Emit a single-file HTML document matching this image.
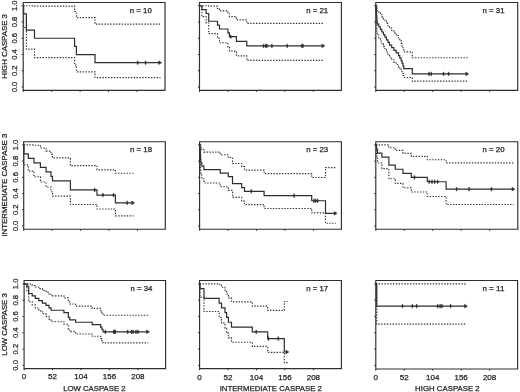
<!DOCTYPE html>
<html><head><meta charset="utf-8"><style>
html,body{margin:0;padding:0;background:#fff;}
body{width:520px;height:392px;overflow:hidden;font-family:"Liberation Sans",sans-serif;}
svg{display:block;will-change:transform;filter:blur(0.3px);}
</style></head><body>
<svg width="520" height="392" viewBox="0 0 520 392">
<rect width="520" height="392" fill="#fff"/>
<g fill="none" stroke="#2e2e2e" stroke-width="1.15">
<path d="M23.2 2.5H165V90.3H23.2ZM199.5 2.5H341.4V90.3H199.5ZM375.8 2.5H517.7V90.3H375.8ZM23.7 141.7H165.3V229.2H23.7ZM199.6 141.7H341.4V229.2H199.6ZM375.8 141.7H517.8V229.2H375.8ZM24.1 280.5H165.6V368.6H24.1ZM199.6 280.5H341.4V368.6H199.6ZM375.8 280.5H517.6V369H375.8Z"/>
<path d="M23.2 87.05h-1.6M23.2 70.79h-1.6M23.2 54.53h-1.6M23.2 38.27h-1.6M23.2 22.01h-1.6M23.2 5.75h-1.6M23.2 90.3v1.6M51.65 90.3v1.6M80.1 90.3v1.6M108.55 90.3v1.6M137 90.3v1.6M199.5 87.05h-1.6M199.5 70.79h-1.6M199.5 54.53h-1.6M199.5 38.27h-1.6M199.5 22.01h-1.6M199.5 5.75h-1.6M199.5 90.3v1.6M227.95 90.3v1.6M256.4 90.3v1.6M284.85 90.3v1.6M313.3 90.3v1.6M375.8 87.05h-1.6M375.8 70.79h-1.6M375.8 54.53h-1.6M375.8 38.27h-1.6M375.8 22.01h-1.6M375.8 5.75h-1.6M375.8 90.3v1.6M404.25 90.3v1.6M432.7 90.3v1.6M461.15 90.3v1.6M489.6 90.3v1.6M23.7 225.96h-1.6M23.7 209.76h-1.6M23.7 193.55h-1.6M23.7 177.35h-1.6M23.7 161.14h-1.6M23.7 144.94h-1.6M23.7 229.2v1.6M52.15 229.2v1.6M80.6 229.2v1.6M109.05 229.2v1.6M137.5 229.2v1.6M199.6 225.96h-1.6M199.6 209.76h-1.6M199.6 193.55h-1.6M199.6 177.35h-1.6M199.6 161.14h-1.6M199.6 144.94h-1.6M199.6 229.2v1.6M228.05 229.2v1.6M256.5 229.2v1.6M284.95 229.2v1.6M313.4 229.2v1.6M375.8 225.96h-1.6M375.8 209.76h-1.6M375.8 193.55h-1.6M375.8 177.35h-1.6M375.8 161.14h-1.6M375.8 144.94h-1.6M375.8 229.2v1.6M404.25 229.2v1.6M432.7 229.2v1.6M461.15 229.2v1.6M489.6 229.2v1.6M24.1 365.4h-1.6M24.1 349.1h-1.6M24.1 332.8h-1.6M24.1 316.5h-1.6M24.1 300.2h-1.6M24.1 283.9h-1.6M24.1 368.6v1.6M52.55 368.6v1.6M81 368.6v1.6M109.45 368.6v1.6M137.9 368.6v1.6M199.6 365.4h-1.6M199.6 349.1h-1.6M199.6 332.8h-1.6M199.6 316.5h-1.6M199.6 300.2h-1.6M199.6 283.9h-1.6M199.6 368.6v1.6M228.05 368.6v1.6M256.5 368.6v1.6M284.95 368.6v1.6M313.4 368.6v1.6M375.8 365.4h-1.6M375.8 349.1h-1.6M375.8 332.8h-1.6M375.8 316.5h-1.6M375.8 300.2h-1.6M375.8 283.9h-1.6M375.8 369v1.6M404.25 369v1.6M432.7 369v1.6M461.15 369v1.6M489.6 369v1.6" stroke-width="1"/>
</g>
<g fill="none" stroke="#333333" stroke-width="1.15" stroke-dasharray="1.4 1.45">
<path d="M23.20 5.75H23.60 V27.54H26.40 V49.12H34.50 V57.64H74.60 V65.18H76.40 V71.83H95.00 V77.59H160.40"/>
<path d="M23.20 5.75H34.50 V6.14H74.60 V11.50H76.40 V17.58H95.00 V24.19H160.40"/>
<path d="M199.50 5.75H201.90 V16.68H206.20 V23.02H208.70 V33.57H217.50 V38.28H219.50 V42.74H227.90 V47.00H229.40 V51.07H236.40 V55.89H246.80 V60.43H323.60"/>
<path d="M199.50 5.75H208.70 V6.06H217.50 V8.38H219.50 V10.94H227.90 V13.71H229.40 V16.66H236.40 V19.88H246.80 V23.36H323.60"/>
<path d="M375.80 5.75H376.00 V13.27H376.20 V17.71H376.40 V21.61H376.60 V25.21H376.80 V28.62H377.00 V31.87H377.20 V35.01H378.80 V38.04H380.33 V40.99H381.86 V43.85H383.39 V46.65H384.91 V49.38H386.44 V52.05H387.97 V54.66H389.50 V57.21H391.70 V59.70H393.90 V62.14H396.20 V64.52H398.50 V66.84H399.80 V69.10H401.20 V71.30H402.10 V73.44H403.00 V75.50H403.80 V77.48H412.30 V81.17H467.50"/>
<path d="M375.80 5.75H376.60 V5.97H376.80 V7.48H377.00 V9.15H377.20 V10.93H378.80 V12.81H380.33 V14.79H381.86 V16.83H383.39 V18.95H384.91 V21.14H386.44 V23.38H387.97 V25.69H389.50 V28.05H391.70 V30.46H393.90 V32.93H396.20 V35.46H398.50 V38.04H399.80 V40.68H401.20 V43.37H402.10 V46.12H403.00 V48.94H403.80 V51.82H412.30 V57.79H467.50"/>
<path d="M23.70 144.94H23.90 V164.80H28.30 V171.05H34.00 V176.73H40.40 V182.02H46.10 V187.00H51.00 V191.71H52.50 V196.18H70.40 V204.48H97.00 V209.00H115.40 V215.80H133.40"/>
<path d="M23.70 144.94H34.00 V145.29H40.40 V148.03H46.10 V151.08H51.00 V154.39H52.50 V157.92H70.40 V165.60H97.00 V169.80H115.40 V173.21H133.40"/>
<path d="M199.60 144.94H200.00 V154.93H200.20 V160.75H200.40 V165.82H200.60 V170.47H200.80 V174.84H201.80 V178.98H203.90 V182.95H220.20 V186.76H228.30 V190.42H232.50 V197.38H241.70 V201.05H244.50 V204.57H264.10 V208.45H311.70 V212.84H325.50 V223.24H335.90"/>
<path d="M199.60 144.94H200.60 V145.23H200.80 V147.31H201.80 V149.62H203.90 V152.10H220.20 V154.74H228.30 V157.52H232.50 V163.45H241.70 V166.67H244.50 V170.05H264.10 V173.66H311.70 V177.47H325.50 V167.59H335.90"/>
<path d="M375.80 144.94H376.50 V156.35H377.50 V162.95H381.90 V168.67H388.90 V178.78H395.30 V183.39H403.00 V187.78H411.30 V191.97H427.30 V196.45H446.10 V204.49H513.70"/>
<path d="M375.80 144.94H388.90 V147.70H395.30 V150.40H403.00 V153.32H411.30 V156.43H427.30 V159.79H446.10 V162.80H513.70"/>
<path d="M24.10 283.90H26.80 V290.79H28.70 V301.79H32.20 V304.94H35.30 V307.95H38.80 V310.86H42.40 V313.68H46.00 V316.42H49.00 V319.09H51.10 V321.70H63.90 V324.26H68.30 V329.21H69.80 V331.62H75.60 V333.97H92.20 V336.28H100.70 V338.55H101.90 V340.77H103.00 V342.94H148.30"/>
<path d="M24.10 283.90H28.70 V284.10H32.20 V285.47H35.30 V286.98H38.80 V288.60H42.40 V290.30H46.00 V292.08H49.00 V293.93H51.10 V295.84H63.90 V297.80H68.30 V301.89H69.80 V304.00H75.60 V306.16H92.20 V308.37H100.70 V310.62H101.90 V312.91H103.00 V315.25H148.30"/>
<path d="M199.60 283.90H200.00 V297.29H204.00 V311.54H219.20 V317.52H221.50 V323.07H225.00 V328.28H226.60 V333.19H228.40 V337.84H231.50 V342.24H252.30 V346.39H267.70 V352.30H284.30 V362.58H287.60"/>
<path d="M199.60 283.90H219.20 V284.27H221.50 V287.21H225.00 V290.48H226.60 V294.04H228.40 V297.85H231.50 V301.90H252.30 V306.17H267.70 V310.38H284.30 V301.48H287.60"/>
<path d="M375.80 283.90H376.70 V324.12H466.30"/>
<path d="M375.80 283.90H466.30"/>
</g>
<g fill="none" stroke="#2e2e2e" stroke-width="1.2">
<path d="M23.20 5.75H23.60 V13.88H26.40 V30.14H34.50 V38.27H74.60 V46.40H76.40 V54.53H95.00 V62.66H160.40"/>
<path d="M199.50 5.75H201.90 V9.62H206.20 V13.49H208.70 V21.24H217.50 V25.11H219.50 V28.98H227.90 V32.85H229.40 V36.72H236.40 V41.30H246.80 V45.87H323.60"/>
<path d="M375.80 5.75H376.00 V8.37H376.20 V11.00H376.40 V13.62H376.60 V16.24H376.80 V18.86H377.00 V21.49H377.20 V24.11H378.80 V26.73H380.33 V29.35H381.86 V31.98H383.39 V34.60H384.91 V37.22H386.44 V39.84H387.97 V42.47H389.50 V45.09H391.70 V47.71H393.90 V50.33H396.20 V52.96H398.50 V55.58H399.80 V58.20H401.20 V60.82H402.10 V63.45H403.00 V66.07H403.80 V68.69H412.30 V73.94H467.50"/>
<path d="M23.70 144.94H23.90 V153.94H28.30 V158.44H34.00 V162.94H40.40 V167.45H46.10 V171.95H51.00 V176.45H52.50 V180.95H70.40 V189.95H97.00 V195.10H115.40 V202.81H133.40"/>
<path d="M199.60 144.94H200.00 V148.46H200.20 V151.99H200.40 V155.51H200.60 V159.03H200.80 V162.55H201.80 V166.08H203.90 V169.60H220.20 V173.12H228.30 V176.64H232.50 V183.69H241.70 V187.53H244.50 V191.37H264.10 V195.70H311.70 V200.74H325.50 V213.35H335.90"/>
<path d="M375.80 144.94H376.50 V148.99H377.50 V153.04H381.90 V157.09H388.90 V165.20H395.30 V169.25H403.00 V173.30H411.30 V177.35H427.30 V181.77H446.10 V189.13H513.70"/>
<path d="M24.10 283.90H26.80 V286.30H28.70 V293.49H32.20 V295.89H35.30 V298.28H38.80 V300.68H42.40 V303.08H46.00 V305.47H49.00 V307.87H51.10 V310.27H63.90 V312.66H68.30 V317.46H69.80 V319.86H75.60 V322.25H92.20 V324.65H100.70 V327.05H101.90 V329.44H103.00 V331.84H148.30"/>
<path d="M199.60 283.90H200.00 V288.69H204.00 V298.28H219.20 V303.08H221.50 V307.87H225.00 V312.66H226.60 V317.46H228.40 V322.25H231.50 V327.05H252.30 V331.84H267.70 V338.55H284.30 V351.98H287.60"/>
<path d="M375.80 283.90H376.70 V306.13H466.30"/>
<path d="M137.7 60.56L138.55 62.66L137.7 64.76L136.85 62.66ZM145.6 60.56L146.45 62.66L145.6 64.76L144.75 62.66ZM158.7 60.76L161.6 62.66L158.7 64.56ZM230.7 34.62L231.55 36.72L230.7 38.82L229.85 36.72ZM263.6 43.77L264.45 45.87L263.6 47.97L262.75 45.87ZM265.8 43.77L266.65 45.87L265.8 47.97L264.95 45.87ZM266.9 43.77L267.75 45.87L266.9 47.97L266.05 45.87ZM271.9 43.77L272.75 45.87L271.9 47.97L271.05 45.87ZM287.2 43.77L288.05 45.87L287.2 47.97L286.35 45.87ZM301.8 43.77L302.65 45.87L301.8 47.97L300.95 45.87ZM302.9 43.77L303.75 45.87L302.9 47.97L302.05 45.87ZM321.9 43.97L324.8 45.87L321.9 47.77ZM429 71.84L429.85 73.94L429 76.04L428.15 73.94ZM431.25 71.84L432.1 73.94L431.25 76.04L430.4 73.94ZM443.6 71.84L444.45 73.94L443.6 76.04L442.75 73.94ZM448.6 71.84L449.45 73.94L448.6 76.04L447.75 73.94ZM465.8 72.04L468.7 73.94L465.8 75.84ZM94.7 187.85L95.55 189.95L94.7 192.05L93.85 189.95ZM102.9 193L103.75 195.1L102.9 197.2L102.05 195.1ZM113.5 193L114.35 195.1L113.5 197.2L112.65 195.1ZM127.1 200.71L127.95 202.81L127.1 204.91L126.25 202.81ZM131.7 200.91L134.6 202.81L131.7 204.71ZM251.2 189.27L252.05 191.37L251.2 193.47L250.35 191.37ZM294.1 193.6L294.95 195.7L294.1 197.8L293.25 195.7ZM314 198.64L314.85 200.74L314 202.84L313.15 200.74ZM315.7 198.64L316.55 200.74L315.7 202.84L314.85 200.74ZM317.6 198.64L318.45 200.74L317.6 202.84L316.75 200.74ZM334.2 211.45L337.1 213.35L334.2 215.25ZM414.4 175.25L415.25 177.35L414.4 179.45L413.55 177.35ZM429.3 179.67L430.15 181.77L429.3 183.87L428.45 181.77ZM432 179.67L432.85 181.77L432 183.87L431.15 181.77ZM434.7 179.67L435.55 181.77L434.7 183.87L433.85 181.77ZM437.6 179.67L438.45 181.77L437.6 183.87L436.75 181.77ZM456.6 187.03L457.45 189.13L456.6 191.23L455.75 189.13ZM469 187.03L469.85 189.13L469 191.23L468.15 189.13ZM491.4 187.03L492.25 189.13L491.4 191.23L490.55 189.13ZM512 187.23L514.9 189.13L512 191.03ZM105.3 329.74L106.15 331.84L105.3 333.94L104.45 331.84ZM113.7 329.74L114.55 331.84L113.7 333.94L112.85 331.84ZM114.5 329.74L115.35 331.84L114.5 333.94L113.65 331.84ZM115.2 329.74L116.05 331.84L115.2 333.94L114.35 331.84ZM127.7 329.74L128.55 331.84L127.7 333.94L126.85 331.84ZM131.4 329.74L132.25 331.84L131.4 333.94L130.55 331.84ZM133.1 329.74L133.95 331.84L133.1 333.94L132.25 331.84ZM136 329.74L136.85 331.84L136 333.94L135.15 331.84ZM138 329.74L138.85 331.84L138 333.94L137.15 331.84ZM146.6 329.94L149.5 331.84L146.6 333.74ZM256.2 329.74L257.05 331.84L256.2 333.94L255.35 331.84ZM268.3 336.45L269.15 338.55L268.3 340.65L267.45 338.55ZM278.2 336.45L279.05 338.55L278.2 340.65L277.35 338.55ZM285.9 350.08L288.8 351.98L285.9 353.88ZM402.5 304.03L403.35 306.13L402.5 308.23L401.65 306.13ZM412.4 304.03L413.25 306.13L412.4 308.23L411.55 306.13ZM416.6 304.03L417.45 306.13L416.6 308.23L415.75 306.13ZM437.7 304.03L438.55 306.13L437.7 308.23L436.85 306.13ZM440.1 304.03L440.95 306.13L440.1 308.23L439.25 306.13ZM442 304.03L442.85 306.13L442 308.23L441.15 306.13ZM450.6 304.03L451.45 306.13L450.6 308.23L449.75 306.13ZM464.6 304.23L467.5 306.13L464.6 308.03Z" fill="#2e2e2e" stroke-width="0.5"/>
</g>
<g font-family="Liberation Sans, sans-serif" fill="#1e1e1e" stroke="#1e1e1e" stroke-width="0.25">
<text x="151.8" y="12.7" text-anchor="end" font-size="7.9" textLength="22" lengthAdjust="spacingAndGlyphs">n = 10</text>
<text transform="translate(17.4 87.05) rotate(-90)" text-anchor="middle" font-size="8.1" textLength="10.6" lengthAdjust="spacingAndGlyphs">0.0</text>
<text transform="translate(17.4 70.79) rotate(-90)" text-anchor="middle" font-size="8.1" textLength="10.6" lengthAdjust="spacingAndGlyphs">0.2</text>
<text transform="translate(17.4 54.53) rotate(-90)" text-anchor="middle" font-size="8.1" textLength="10.6" lengthAdjust="spacingAndGlyphs">0.4</text>
<text transform="translate(17.4 38.27) rotate(-90)" text-anchor="middle" font-size="8.1" textLength="10.6" lengthAdjust="spacingAndGlyphs">0.6</text>
<text transform="translate(17.4 22.01) rotate(-90)" text-anchor="middle" font-size="8.1" textLength="10.6" lengthAdjust="spacingAndGlyphs">0.8</text>
<text transform="translate(17.4 5.75) rotate(-90)" text-anchor="middle" font-size="8.1" textLength="10.6" lengthAdjust="spacingAndGlyphs">1.0</text>
<text x="328.2" y="12.7" text-anchor="end" font-size="7.9" textLength="22" lengthAdjust="spacingAndGlyphs">n = 21</text>
<text x="504.5" y="12.7" text-anchor="end" font-size="7.9" textLength="22" lengthAdjust="spacingAndGlyphs">n = 31</text>
<text x="152.1" y="151.9" text-anchor="end" font-size="7.9" textLength="22" lengthAdjust="spacingAndGlyphs">n = 18</text>
<text transform="translate(17.9 225.96) rotate(-90)" text-anchor="middle" font-size="8.1" textLength="10.6" lengthAdjust="spacingAndGlyphs">0.0</text>
<text transform="translate(17.9 209.76) rotate(-90)" text-anchor="middle" font-size="8.1" textLength="10.6" lengthAdjust="spacingAndGlyphs">0.2</text>
<text transform="translate(17.9 193.55) rotate(-90)" text-anchor="middle" font-size="8.1" textLength="10.6" lengthAdjust="spacingAndGlyphs">0.4</text>
<text transform="translate(17.9 177.35) rotate(-90)" text-anchor="middle" font-size="8.1" textLength="10.6" lengthAdjust="spacingAndGlyphs">0.6</text>
<text transform="translate(17.9 161.14) rotate(-90)" text-anchor="middle" font-size="8.1" textLength="10.6" lengthAdjust="spacingAndGlyphs">0.8</text>
<text transform="translate(17.9 144.94) rotate(-90)" text-anchor="middle" font-size="8.1" textLength="10.6" lengthAdjust="spacingAndGlyphs">1.0</text>
<text x="328.2" y="151.9" text-anchor="end" font-size="7.9" textLength="22" lengthAdjust="spacingAndGlyphs">n = 23</text>
<text x="504.6" y="151.9" text-anchor="end" font-size="7.9" textLength="22" lengthAdjust="spacingAndGlyphs">n = 20</text>
<text x="152.4" y="290.7" text-anchor="end" font-size="7.9" textLength="22" lengthAdjust="spacingAndGlyphs">n = 34</text>
<text transform="translate(18.3 365.4) rotate(-90)" text-anchor="middle" font-size="8.1" textLength="10.6" lengthAdjust="spacingAndGlyphs">0.0</text>
<text transform="translate(18.3 349.1) rotate(-90)" text-anchor="middle" font-size="8.1" textLength="10.6" lengthAdjust="spacingAndGlyphs">0.2</text>
<text transform="translate(18.3 332.8) rotate(-90)" text-anchor="middle" font-size="8.1" textLength="10.6" lengthAdjust="spacingAndGlyphs">0.4</text>
<text transform="translate(18.3 316.5) rotate(-90)" text-anchor="middle" font-size="8.1" textLength="10.6" lengthAdjust="spacingAndGlyphs">0.6</text>
<text transform="translate(18.3 300.2) rotate(-90)" text-anchor="middle" font-size="8.1" textLength="10.6" lengthAdjust="spacingAndGlyphs">0.8</text>
<text transform="translate(18.3 283.9) rotate(-90)" text-anchor="middle" font-size="8.1" textLength="10.6" lengthAdjust="spacingAndGlyphs">1.0</text>
<text x="24.1" y="379.3" text-anchor="middle" font-size="8">0</text>
<text x="52.55" y="379.3" text-anchor="middle" font-size="8">52</text>
<text x="81" y="379.3" text-anchor="middle" font-size="8">104</text>
<text x="109.45" y="379.3" text-anchor="middle" font-size="8">156</text>
<text x="137.9" y="379.3" text-anchor="middle" font-size="8">208</text>
<text x="328.2" y="290.7" text-anchor="end" font-size="7.9" textLength="22" lengthAdjust="spacingAndGlyphs">n = 17</text>
<text x="199.6" y="379.8" text-anchor="middle" font-size="8">0</text>
<text x="228.05" y="379.8" text-anchor="middle" font-size="8">52</text>
<text x="256.5" y="379.8" text-anchor="middle" font-size="8">104</text>
<text x="284.95" y="379.8" text-anchor="middle" font-size="8">156</text>
<text x="313.4" y="379.8" text-anchor="middle" font-size="8">208</text>
<text x="504.4" y="290.7" text-anchor="end" font-size="7.9" textLength="22" lengthAdjust="spacingAndGlyphs">n = 11</text>
<text x="375.8" y="379.9" text-anchor="middle" font-size="8">0</text>
<text x="404.25" y="379.9" text-anchor="middle" font-size="8">52</text>
<text x="432.7" y="379.9" text-anchor="middle" font-size="8">104</text>
<text x="461.15" y="379.9" text-anchor="middle" font-size="8">156</text>
<text x="489.6" y="379.9" text-anchor="middle" font-size="8">208</text>
<text x="94.4" y="390.8" text-anchor="middle" font-size="8" textLength="62.4" lengthAdjust="spacingAndGlyphs">LOW CASPASE 2</text>
<text x="270.75" y="390.8" text-anchor="middle" font-size="8" textLength="102.2" lengthAdjust="spacingAndGlyphs">INTERMEDIATE CASPASE 2</text>
<text x="447.4" y="390.8" text-anchor="middle" font-size="8" textLength="64.6" lengthAdjust="spacingAndGlyphs">HIGH CASPASE 2</text>
<text transform="translate(6.6 46.4) rotate(-90)" text-anchor="middle" font-size="8" textLength="64.6" lengthAdjust="spacingAndGlyphs">HIGH CASPASE 3</text>
<text transform="translate(6.6 185.1) rotate(-90)" text-anchor="middle" font-size="8" textLength="103" lengthAdjust="spacingAndGlyphs">INTERMEDIATE CASPASE 3</text>
<text transform="translate(6.6 324.45) rotate(-90)" text-anchor="middle" font-size="8" textLength="62.4" lengthAdjust="spacingAndGlyphs">LOW CASPASE 3</text>
</g>
</svg>
</body></html>
